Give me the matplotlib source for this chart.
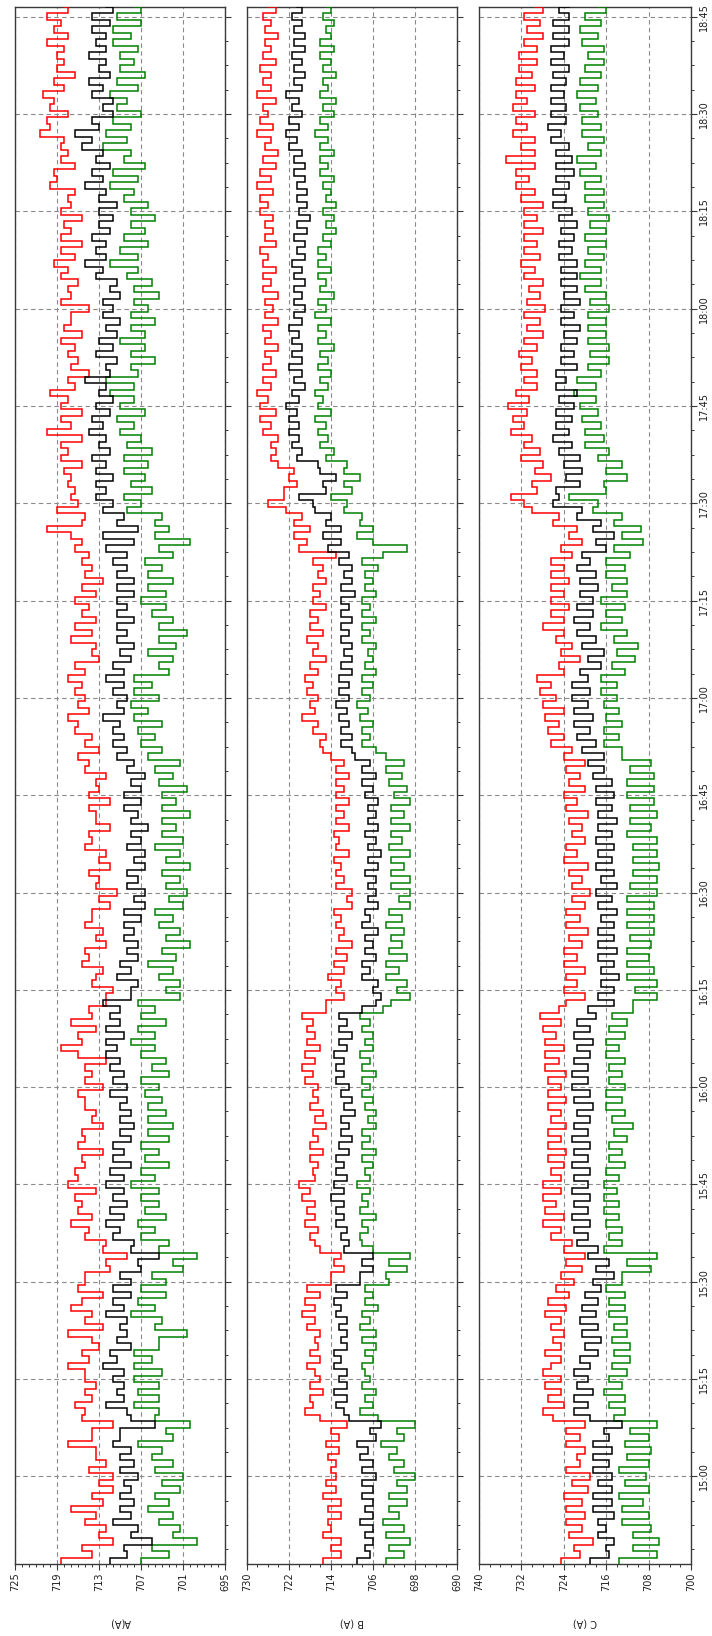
import numpy as np
import matplotlib
matplotlib.use("Agg")
import matplotlib.pyplot as plt
from matplotlib.ticker import MultipleLocator, FixedLocator, FuncFormatter

# One reading per minute, 14:46:30 .. 18:46:30 (minutes after midnight)
start_minute = 14 * 60 + 46.5

a_ticks = [725, 719, 713, 707, 701, 695]
b_ticks = [730, 722, 714, 706, 698, 690]
c_ticks = [740, 732, 724, 716, 708, 700]

a_red = [
    718.5, 714, 715.5, 711, 713, 712, 715, 713.5, 717, 712.5,
    714, 711, 713, 711, 714.5, 712, 713.5, 713.5, 717.5, 714,
    714, 711, 715.5, 715, 716.5, 714, 715, 713.5, 715, 715,
    717.5, 714.5, 715.5, 713, 714, 717.5, 712.5, 715, 714, 717,
    715.5, 712.5, 716, 715, 715, 711.5, 712, 709, 712.5, 712,
    715, 714.5, 717, 714, 716, 715.5, 716.5, 713.5, 717.5, 716,
    716.5, 715, 715.5, 712.5, 716, 715, 715.5, 712.5, 714, 713.5,
    715, 715, 716, 712.5, 715, 714, 715, 712, 716, 718.5,
    715.5, 716, 713.5, 717, 714, 714.5, 712, 712, 711, 714,
    713.5, 712.5, 715.5, 714.5, 715, 712, 713.5, 712.5, 715, 714,
    714, 711.5, 713, 710.5, 713.5, 713, 714.5, 711.5, 713, 712,
    715, 714, 714.5, 711.5, 713.5, 713.5, 714.5, 711.5, 714.5, 713,
    713.5, 712, 715, 714.5, 716, 713, 715, 714, 716.5, 716,
    717.5, 714.5, 716, 715, 716.5, 715.5, 717.5, 715, 716.5, 713,
    714, 713.5, 717, 714, 716.5, 713.5, 715.5, 714.5, 716.5, 713.5,
    715.5, 712.5, 715, 714, 715.5, 714.5, 716.5, 715.5, 717, 720.5,
    715.5, 715, 719, 716, 717, 716.5, 717.5, 717, 718, 715.5,
    718.5, 717.5, 718.5, 715.5, 720.5, 717, 718.5, 715.5, 718.5, 717.5,
    720, 716.5, 717.5, 714.5, 717, 716, 717.5, 716.5, 718.5, 715.5,
    718, 717, 717, 714.5, 718.5, 717, 717.5, 716, 718.5, 717.5,
    719.5, 716.5, 718.5, 715.5, 718.5, 717, 718, 715.5, 718.5, 717,
    717.5, 716.5, 720, 719, 719.5, 716.5, 718.5, 717.5, 718.5, 718,
    721.5, 720, 720.5, 717.5, 720, 719.5, 721, 718, 719.5, 716.5,
    719, 718, 719, 718, 720.5, 717.5, 719.5, 718.5, 720.5, 717.5, 718,
]
a_black = [
    711.5, 709, 709.5, 705.5, 708.5, 707.5, 711, 708.5, 710, 708,
    710, 708.5, 709.5, 707.5, 710, 708, 710, 708.5, 711, 710,
    710, 705, 708.5, 709, 712, 709.5, 710.5, 709.5, 711, 709.5,
    712.5, 710.5, 711.5, 708.5, 710.5, 709, 710, 709, 712, 709.5,
    711, 708.5, 711, 708.5, 710, 707, 707.5, 704.5, 708.5, 708,
    711, 710, 712, 709.5, 711.5, 709, 711, 709.5, 712, 709.5,
    711.5, 708.5, 711, 709.5, 711, 708.5, 710, 708, 710, 708.5,
    710, 709, 711.5, 709, 711, 709.5, 711.5, 710, 712, 710.5,
    712, 709.5, 712, 710, 711.5, 710, 712.5, 708.5, 708.5, 707.5,
    710.5, 708.5, 710, 707.5, 709, 707.5, 709.5, 708, 709.5, 707,
    709.5, 706.5, 708, 706.5, 709, 707.5, 709, 706.5, 708, 706.5,
    709, 707, 708.5, 706, 708.5, 707.5, 709.5, 707, 709.5, 707,
    708.5, 706.5, 709, 708, 710.5, 709, 711, 709.5, 711, 710,
    712.5, 709.5, 710.5, 709, 711, 709.5, 712, 709.5, 711, 708.5,
    710, 708, 710.5, 709, 710.5, 708, 710.5, 709, 710.5, 708,
    710.5, 708, 710.5, 709, 711, 709, 712, 708, 712.5, 707.5,
    710.5, 709.5, 712.5, 711, 713.5, 712, 713.5, 711, 713.5, 712,
    714, 711.5, 713, 712, 714.5, 712.5, 714, 711.5, 713.5, 711,
    713, 712, 715, 711.5, 712, 710.5, 713.5, 711, 713, 710.5,
    712, 710, 712.5, 711, 712.5, 710, 711.5, 710.5, 713.5, 712.5,
    715, 712, 713.5, 712, 714, 711.5, 713, 711, 713, 710.5,
    713, 712, 715, 712.5, 714, 711.5, 713.5, 712.5, 715.5, 714,
    716.5, 713, 714, 711, 712.5, 711, 714, 712.5, 714.5, 711.5,
    713, 712, 714.5, 712, 713.5, 712, 714, 711.5, 714, 711, 712,
]
a_green = [
    707, 703, 705.5, 699, 702.5, 701.5, 704.5, 702.5, 706, 703,
    705, 701.5, 704, 701, 705, 702.5, 705.5, 704, 707.5, 702.5,
    703.5, 700, 705, 704.5, 708, 704.5, 707.5, 704.5, 708, 704,
    708, 705.5, 708, 704.5, 704.5, 700.5, 705, 704, 708.5, 705,
    707.5, 703.5, 707, 703.5, 705.5, 701, 702.5, 699, 704.5, 703,
    707, 705, 707.5, 703.5, 706.5, 704.5, 707, 704.5, 708.5, 705,
    707, 703, 706.5, 704.5, 707, 703, 706, 702.5, 706, 703.5,
    706, 704, 706.5, 704.5, 707, 703, 705.5, 703.5, 707, 705,
    708.5, 705, 707.5, 703.5, 707, 705, 707.5, 701.5, 703.5, 701.5,
    704.5, 702.5, 706, 702, 704, 700, 703.5, 701.5, 704.5, 702.5,
    705, 701, 703, 700.5, 703.5, 701.5, 704, 700, 703.5, 701.5,
    705, 701, 704, 702, 704, 700, 704, 702, 704, 700.5,
    704.5, 702.5, 705, 701.5, 706, 704, 707, 705, 707.5, 704,
    708, 706, 708.5, 704.5, 708, 705.5, 708, 703, 704.5, 702.5,
    706, 702, 704.5, 700.5, 704.5, 702.5, 705.5, 703.5, 707, 703.5,
    706, 702.5, 706, 704, 706.5, 702.5, 704.5, 700, 705, 703,
    705, 704, 709, 707, 709.5, 705.5, 708.5, 706.5, 709.5, 706,
    709.5, 705.5, 709, 707, 710, 708, 710.5, 706.5, 710, 708,
    711.5, 708, 712, 707.5, 708.5, 705, 708.5, 706.5, 710, 706.5,
    708.5, 705, 708.5, 706, 708, 704.5, 708, 705.5, 709, 707.5,
    711.5, 707.5, 710, 706, 709.5, 706.5, 708.5, 705, 708.5, 706,
    709.5, 708, 711.5, 707.5, 711, 706.5, 709.5, 708.5, 712.5, 709,
    712, 708.5, 711, 707, 710.5, 709, 711.5, 707.5, 710.5, 706.5,
    710, 708, 710, 707.5, 711, 708.5, 711, 707, 710.5, 707, 708,
]

b_red = [
    715.5, 712, 714, 712, 715.5, 714, 714.5, 712, 714.5, 712,
    715.5, 713, 715, 713, 714, 713, 714.5, 712.5, 715, 712.5,
    714, 711, 716, 719, 717.5, 718, 715.5, 718, 716, 717,
    718.5, 716, 718, 716.5, 717, 716, 718.5, 717, 719.5, 717,
    719, 716, 718.5, 714, 714, 711.5, 713.5, 712, 716, 717,
    718, 716.5, 719, 717, 718.5, 717, 719.5, 718, 720, 717,
    717.5, 716.5, 718, 715.5, 718, 716.5, 717.5, 715, 717, 715.5,
    718, 716.5, 717.5, 716.5, 719, 717.5, 719.5, 717, 719, 716,
    718.5, 717, 718.5, 717.5, 719.5, 715, 715, 711.5, 713, 712,
    714.5, 711.5, 713.5, 711, 713, 710, 712.5, 711.5, 713, 712,
    713.5, 710, 711, 710, 713, 711.5, 713, 712, 713.5, 710.5,
    713, 712.5, 713.5, 710.5, 713, 711.5, 713, 710.5, 713, 711.5,
    713, 710.5, 713, 711.5, 714, 715.5, 716, 715, 717.5, 716.5,
    719.5, 717, 718, 716.5, 718.5, 717.5, 719, 716.5, 718, 715,
    717.5, 716.5, 718.5, 715.5, 718, 716.5, 718, 715, 717.5, 716,
    717.5, 715, 716.5, 715.5, 717.5, 713, 720, 718.5, 721, 718,
    721, 719.5, 722.5, 726, 723, 723, 720.5, 722, 721, 724,
    725.5, 724.5, 725.5, 724, 727, 725.5, 727.5, 724.5, 727.5, 726,
    728, 725.5, 727, 724.5, 727, 725.5, 726.5, 724, 726.5, 725.5,
    727, 724, 726.5, 725, 726.5, 724, 727, 725.5, 727, 724.5,
    727, 726, 727.5, 724.5, 726.5, 725, 726.5, 725, 727.5, 726,
    727.5, 725, 728, 725.5, 727.5, 724.5, 727, 724, 726.5, 725.5,
    728, 725, 727.5, 726, 727, 724.5, 728, 725.5, 727, 725.5,
    727.5, 724.5, 727, 725.5, 726.5, 724, 726.5, 725.5, 727, 724.5, 726,
]
b_black = [
    709, 706.5, 707.5, 706, 707.5, 706, 708.5, 706, 707.5, 706,
    708, 706, 708, 705.5, 708, 706, 708.5, 707, 709, 705.5,
    706.5, 704.5, 710.5, 711.5, 713, 711, 713.5, 711, 712.5, 711,
    713.5, 712, 713.5, 711, 712, 711, 712.5, 711, 713, 712,
    713.5, 711, 713, 708.5, 708.5, 706, 708, 706, 711.5, 710.5,
    712, 711, 713, 711.5, 713, 711.5, 714, 711.5, 713.5, 711,
    713, 711.5, 713, 710.5, 712.5, 710, 712, 710.5, 712, 709.5,
    711.5, 710, 712, 710.5, 713, 711.5, 713, 711.5, 713.5, 711,
    712.5, 710, 712.5, 711, 712.5, 708, 705.5, 704.5, 706, 705,
    708, 706.5, 708, 705.5, 707.5, 706, 707.5, 705, 708, 706.5,
    707.5, 705, 707, 705.5, 707, 705.5, 707.5, 705, 707, 704.5,
    707, 705.5, 707.5, 705, 707, 705.5, 707, 705, 707.5, 706,
    708, 705.5, 708, 706.5, 709.5, 710, 712, 710, 712, 710.5,
    712.5, 711, 713, 710.5, 712.5, 710.5, 712.5, 710, 712, 710,
    711.5, 710, 712, 710.5, 712, 710, 712, 710.5, 712, 709.5,
    712, 710, 711.5, 710, 712.5, 710.5, 714.5, 712, 715.5, 712,
    715, 714, 717, 717.5, 720, 715, 715.5, 713, 716, 716.5,
    720.5, 719.5, 721.5, 720, 722, 720, 722, 720.5, 722.5, 720,
    721.5, 719, 721, 719.5, 722, 719.5, 721.5, 719.5, 721.5, 720,
    722, 719.5, 721, 719, 721, 719.5, 721, 719, 721, 719.5,
    721.5, 719, 720.5, 719, 721, 718.5, 720.5, 718, 720, 718.5,
    720.5, 718.5, 720.5, 719, 721, 719, 721, 719.5, 722, 720.5,
    722.5, 720, 722, 719.5, 721.5, 720, 722.5, 719.5, 721, 719,
    721, 719.5, 721.5, 719, 721, 719, 721, 719.5, 721.5, 719.5, 720.5,
]
b_green = [
    703.5, 700, 703, 699, 703.5, 700, 704, 701, 703, 699.5,
    703, 699.5, 701.5, 698, 702, 700, 703, 701.5, 704.5, 700,
    701.5, 698, 705, 708.5, 706, 707.5, 705.5, 708, 706.5, 707.5,
    708, 706, 707.5, 705.5, 708, 705.5, 708.5, 706.5, 708, 705,
    707.5, 706, 707.5, 703, 703.5, 699.5, 703, 699, 706, 708,
    708.5, 707, 708, 705.5, 708.5, 707, 708, 706.5, 709, 706.5,
    707.5, 706, 708, 705.5, 708, 706.5, 708, 705.5, 707, 705.5,
    707.5, 706, 708, 706.5, 708, 705.5, 708, 706.5, 708.5, 706,
    707.5, 706, 708, 706.5, 708.5, 704, 702.5, 699, 701.5, 699.5,
    703.5, 701, 703.5, 699.5, 703, 700.5, 702.5, 700, 703.5, 700.5,
    703, 699, 701, 699, 702.5, 699, 702.5, 700, 702.5, 699,
    703, 700.5, 702.5, 699, 702.5, 700, 702.5, 699, 702, 699.5,
    703, 700.5, 703.5, 700, 703.5, 705.5, 708, 706.5, 708, 706,
    708.5, 707, 709, 706.5, 708, 706, 708, 705.5, 707.5, 706,
    707, 705.5, 708, 706.5, 708, 705.5, 708, 706.5, 708, 705.5,
    707.5, 706, 707.5, 705, 708, 704, 699.5, 706, 709, 706,
    708.5, 708, 711.5, 711, 714, 710, 711.5, 708.5, 711.5, 711,
    715, 713.5, 716, 714.5, 716.5, 715, 717, 714, 716.5, 715.5,
    717, 714.5, 716, 714, 716.5, 714.5, 716, 713.5, 716.5, 715,
    716.5, 714, 717, 715, 716.5, 713.5, 716, 715, 716.5, 714,
    716.5, 715, 716.5, 714, 715.5, 713, 715, 713.5, 715.5, 713,
    715, 714, 715.5, 713.5, 716, 714.5, 716, 713.5, 716, 714.5,
    717, 714.5, 716, 713.5, 715.5, 713, 716, 714.5, 715.5, 713,
    715.5, 714, 716, 713.5, 716, 714, 715, 713.5, 715.5, 714, 715,
]

c_red = [
    724.5, 721, 722, 718.5, 723, 720.5, 723.5, 720, 723.5, 720.5,
    724, 719.5, 722.5, 719, 723.5, 721, 721.5, 720, 723.5, 721,
    723.5, 720, 726, 728, 724, 727, 724.5, 727.5, 724.5, 728,
    726.5, 724.5, 727.5, 724.5, 726, 724, 726.5, 724.5, 727.5, 723.5,
    727, 723, 725.5, 722, 724.5, 720.5, 723.5, 720, 724, 722.5,
    726.5, 724.5, 728, 724, 727.5, 725.5, 728, 724.5, 728, 724.5,
    726.5, 724, 727, 723.5, 727, 724.5, 727, 723.5, 726.5, 724.5,
    727, 723.5, 727, 724.5, 727, 723.5, 727.5, 725, 727.5, 724,
    727.5, 725.5, 728, 724.5, 728.5, 725, 723.5, 720, 724, 721.5,
    723.5, 720, 724, 721.5, 724, 720.5, 723, 719.5, 723.5, 721,
    723.5, 720, 722.5, 719, 722.5, 720.5, 723, 719.5, 724, 721.5,
    723.5, 720, 722.5, 720.5, 723, 719.5, 723.5, 721.5, 724, 720,
    723, 721, 723.5, 720, 724, 722.5, 726.5, 724, 727, 725,
    727.5, 724, 728, 725.5, 728.5, 726.5, 729, 724, 725, 721,
    724.5, 722.5, 725.5, 724, 728, 724, 726.5, 723, 726.5, 724,
    726.5, 723, 726.5, 724, 726.5, 722.5, 724.5, 720.5, 723, 721.5,
    726, 725, 730, 731.5, 734, 729, 730, 726.5, 729.5, 728,
    732, 728.5, 731.5, 730, 734, 731.5, 733.5, 731, 734.5, 730.5,
    733, 729, 731.5, 729, 732, 730, 732.5, 729, 731.5, 728,
    731, 728.5, 731.5, 727.5, 731, 728.5, 730.5, 728, 731.5, 729.5,
    732, 728.5, 731.5, 729, 731.5, 728, 731.5, 729, 731.5, 728,
    732, 729.5, 733, 730.5, 733, 729.5, 735, 729.5, 732, 729.5,
    733.5, 731, 733, 729.5, 733.5, 731, 733, 729.5, 733, 730,
    732.5, 729, 732.5, 729, 731.5, 728, 731, 728.5, 731.5, 728, 729.5,
]
c_black = [
    719, 715.5, 716, 714.5, 717.5, 716, 717.5, 714.5, 718.5, 715,
    718.5, 715, 717.5, 715, 718.5, 715.5, 718.5, 715, 718.5, 715.5,
    716.5, 713, 719, 722, 719.5, 722, 718.5, 721.5, 719.5, 722,
    719, 721, 717.5, 720, 717, 720.5, 717.5, 721, 718, 720.5,
    717.5, 720, 717, 718.5, 714.5, 718, 715.5, 719.5, 717.5, 721.5,
    719.5, 722, 719, 722.5, 719.5, 722, 719, 722.5, 719.5, 722,
    719, 722.5, 719.5, 722, 719, 722.5, 719.5, 722, 719, 721.5,
    718.5, 722, 719, 722.5, 719.5, 722.5, 719.5, 722, 719, 721.5,
    718.5, 722, 719, 721.5, 718, 719.5, 714.5, 717.5, 714.5, 717,
    713.5, 717, 714.5, 717.5, 714, 717.5, 714.5, 717.5, 714.5, 717,
    714, 717.5, 715, 718, 714, 717, 714.5, 718, 715, 717.5,
    714.5, 718, 715, 717.5, 714, 717.5, 715, 718, 714.5, 718,
    715, 718.5, 716.5, 719.5, 716.5, 720.5, 718, 721.5, 719, 722,
    718.5, 722, 719.5, 722.5, 719, 722.5, 719.5, 721, 717, 719.5,
    716.5, 720.5, 718, 721.5, 719, 722, 718.5, 721.5, 718.5, 721,
    717.5, 721, 718, 721.5, 719, 720.5, 716, 718, 714.5, 718.5,
    717, 721.5, 720.5, 726, 725, 725.5, 721, 723.5, 720.5, 724,
    721, 725, 722.5, 726, 723, 725.5, 722.5, 725.5, 722, 725,
    721.5, 725.5, 723.5, 725.5, 721.5, 724.5, 722, 724.5, 721.5, 724,
    721, 724.5, 722, 724.5, 721, 724, 721.5, 724.5, 721.5, 724.5,
    721.5, 725, 722.5, 725, 722, 724.5, 721.5, 725, 722.5, 726,
    723.5, 726, 723, 725.5, 722, 725.5, 722.5, 725.5, 723, 726.5,
    724.5, 727, 723.5, 726.5, 723.5, 726.5, 724, 726.5, 723.5, 726,
    723, 726.5, 724, 726.5, 723, 726, 723, 726, 723, 725, 723,
]
c_green = [
    713.5, 706.5, 711, 706, 711, 707.5, 713, 708, 713, 709,
    713.5, 708, 712.5, 708.5, 713.5, 708, 712, 707.5, 712.5, 708,
    711.5, 706.5, 714.5, 712.5, 715.5, 712.5, 716.5, 713, 715.5, 712,
    715, 711.5, 714.5, 711.5, 715, 712, 714.5, 712, 715.5, 712.5,
    715.5, 712.5, 716, 713, 713, 707.5, 712, 706.5, 716.5, 713,
    715.5, 713, 716, 713.5, 716.5, 713.5, 716.5, 714, 716.5, 713.5,
    716, 712.5, 715.5, 713, 715.5, 712, 714.5, 711, 715, 712.5,
    716, 713, 716, 712.5, 715.5, 713, 715.5, 712.5, 716, 713.5,
    716, 712.5, 715.5, 712, 715, 711, 711, 706.5, 710.5, 706.5,
    712, 707, 712, 708, 712, 707.5, 711.5, 707, 712, 707,
    712, 707, 712, 706.5, 711.5, 706.5, 711, 706, 711, 706.5,
    711, 706.5, 712, 707.5, 711.5, 706.5, 711.5, 707, 712, 707,
    712, 707, 711.5, 707.5, 713, 713, 716.5, 713.5, 716.5, 713,
    716, 713.5, 716.5, 714, 717, 714, 717, 712.5, 715, 710.5,
    714, 710, 714.5, 712, 717, 713, 716, 712.5, 717, 712,
    715, 712, 716, 712.5, 716, 711.5, 714.5, 709, 713, 709.5,
    714.5, 713, 718.5, 717.5, 723, 716, 716.5, 712, 716, 713,
    717.5, 715.5, 720, 716.5, 720, 717, 720.5, 717.5, 721, 718,
    722, 718, 721.5, 717, 719.5, 715.5, 719, 715.5, 719.5, 716,
    719.5, 716, 719.5, 715.5, 719, 716, 720, 717, 721, 717,
    720, 716.5, 719.5, 716, 720, 716, 719, 715.5, 719.5, 716.5,
    720, 716.5, 720, 717, 721, 718, 721.5, 717, 719.5, 716.5,
    720.5, 717, 720.5, 717.5, 721, 718, 721.5, 717.5, 721, 717,
    720, 716.5, 719.5, 716.5, 720.5, 717.5, 721, 717, 720, 716, 717.5,
]

# panel label, series, value ticks (left to right), minor value step
panels = [
    ("A(A)", (a_red, a_black, a_green), a_ticks, 1),
    ("B (A)", (b_red, b_black, b_green), b_ticks, 2),
    ("C (A)", (c_red, c_black, c_green), c_ticks, 2),
]
series_colors = ["#ff0000", "#000000", "#008000"]
draw_order = [0, 2, 1]

W, H = 712, 1636
fig = plt.figure(figsize=(W / 100, H / 100), dpi=100)
plt.rcParams["font.family"] = ["DejaVu Sans"]

lefts = [15, 247, 479]
widths = [210, 210, 212]
top_px, bottom_px = 7, 1564
text_color = "#1e1e1e"
frame_color = "#3a3a3a"


def hhmm(m, pos=None):
    m = int(round(m))
    return f"{m // 60:02d}:{m % 60:02d}"


for k, (label, series, ticks, minor) in enumerate(panels):
    ax = fig.add_axes([lefts[k] / W, 1 - bottom_px / H,
                       widths[k] / W, (bottom_px - top_px) / H])
    for idx in draw_order:
        vals = np.asarray(series[idx], dtype=float)
        t = start_minute + np.arange(len(vals))
        ax.plot(vals, t, color=series_colors[idx], lw=1.1,
                drawstyle="steps-pre", solid_joinstyle="miter", zorder=3)

    ax.set_xlim(ticks[0], ticks[-1])
    ax.set_ylim(start_minute, start_minute + 240)

    ax.xaxis.set_major_locator(FixedLocator(ticks))
    ax.xaxis.set_minor_locator(MultipleLocator(minor))
    ax.xaxis.set_major_formatter(FuncFormatter(lambda v, p: f"{v:.0f}"))
    ax.yaxis.set_major_locator(MultipleLocator(15))
    ax.yaxis.set_minor_locator(MultipleLocator(3.75))
    ax.yaxis.set_major_formatter(FuncFormatter(hhmm))

    ax.grid(True, which="major", linestyle=(0, (4, 3)), color="#8a8a8a",
            linewidth=0.8, zorder=1)

    ax.yaxis.tick_right()
    ax.tick_params(axis="both", which="both", direction="out",
                   color=frame_color, labelcolor=text_color, labelsize=7)
    ax.tick_params(axis="both", which="major", length=4, width=0.8, pad=2)
    ax.tick_params(axis="both", which="minor", length=2.5, width=0.7)
    ax.tick_params(axis="x", which="both", top=False, bottom=True,
                   labelrotation=90)
    ax.tick_params(axis="y", which="both", left=False, right=True,
                   labelleft=False, labelright=(k == 2), labelrotation=90)
    for lab in ax.get_yticklabels():
        lab.set_va("center")

    for sp in ax.spines.values():
        sp.set_color(frame_color)
        sp.set_linewidth(1.0)

    ax.set_xlabel(label, rotation=180, fontsize=7, color=text_color)
    ax.xaxis.set_label_coords(0.5, -(1623 - bottom_px) / (bottom_px - top_px))
    ax.xaxis.label.set_va("center")
    ax.xaxis.label.set_ha("center")

fig.savefig("out.png", dpi=100)
